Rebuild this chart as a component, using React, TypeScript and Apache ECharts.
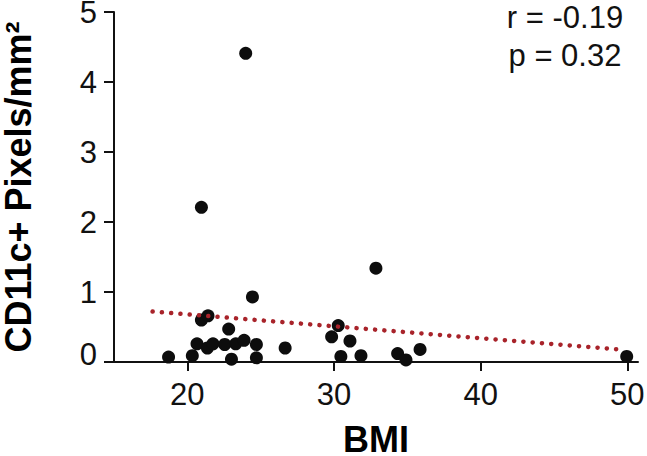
import React, { useEffect, useRef } from "react";
import * as echarts from "echarts";

const bmi = [18.72, 20.34, 20.66, 20.96, 21.41, 21.37, 21.75, 22.55, 22.82, 23.01, 23.3, 23.87, 24.44, 24.71, 24.71, 26.67, 29.84, 30.29, 31.09, 30.47, 31.84, 34.34, 34.91, 35.87, 49.96, 23.98, 20.96, 32.86];
const cd11c = [0.07, 0.09, 0.26, 0.6, 0.66, 0.2, 0.26, 0.25, 0.47, 0.04, 0.26, 0.31, 0.93, 0.25, 0.06, 0.2, 0.36, 0.52, 0.3, 0.08, 0.09, 0.12, 0.03, 0.18, 0.08, 4.41, 2.21, 1.34];
const trendX = [17.63, 49.44];
const trendY = [0.72, 0.18];
const xTicks = [20, 30, 40, 50];
const statLines = ["r = -0.19", "p = 0.32"];

const FONT = "'Liberation Sans', Arial, Helvetica, sans-serif";

export default function App() {
  const ref = useRef<HTMLDivElement>(null);
  useEffect(() => {
    if (!ref.current) return;
    const chart = echarts.init(ref.current, undefined, { renderer: "svg" });
    const points = bmi.map((x, i) => [x, cd11c[i]]);
    const trend = trendX.map((x, i) => [x, trendY[i]]);
    chart.setOption({
      animation: false,
      backgroundColor: "#ffffff",
      grid: { left: 114, right: 9, top: 12, bottom: 94, containLabel: false, outerBoundsMode: "none" },
      xAxis: {
        type: "value",
        min: 15,
        max: 50.73,
        name: "BMI",
        nameLocation: "middle",
        nameGap: 64,
        nameTextStyle: { fontFamily: FONT, fontSize: 36, fontWeight: "bold", color: "#000", lineHeight: 26 },
        axisLine: { lineStyle: { color: "#111", width: 2 } },
        axisTick: { show: true, length: 9, lineStyle: { color: "#111", width: 2 }, customValues: xTicks },
        axisLabel: { fontFamily: FONT, fontSize: 31, color: "#111", margin: 19, lineHeight: 26, customValues: xTicks },
        splitLine: { show: false },
      },
      yAxis: {
        type: "value",
        min: 0,
        max: 5,
        interval: 1,
        name: "CD11c+ Pixels/mm²",
        nameLocation: "middle",
        nameGap: 81,
        nameTextStyle: { fontFamily: FONT, fontSize: 36, fontWeight: "bold", color: "#000", lineHeight: 30 },
        axisLine: { show: true, lineStyle: { color: "#111", width: 2 } },
        axisTick: { show: true, length: 10, lineStyle: { color: "#111", width: 2 } },
        axisLabel: {
          fontFamily: FONT,
          fontSize: 31,
          color: "#111",
          margin: 17,
          lineHeight: 24,
          formatter: (v: number) => (v === 0 ? "{z|0}" : String(v)),
          rich: { z: { fontFamily: FONT, fontSize: 31, color: "#111", lineHeight: 24, padding: [0, 0, 16, 0] } },
        },
        splitLine: { show: false },
      },
      series: [
        {
          type: "line",
          data: trend,
          symbol: "none",
          lineStyle: { color: "#a8232a", width: 4.5, type: [0.1, 9.2], cap: "round" },
          z: 3,
        },
        {
          type: "scatter",
          data: points,
          symbolSize: 13,
          itemStyle: { color: "#0d0d0d", opacity: 1 },
          z: 2,
        },
      ],
      graphic: statLines.map((t, i) => ({
        type: "text",
        x: 565,
        y: 17 + i * 38.5,
        style: { text: t, fontFamily: FONT, fontSize: 31, lineHeight: 24, fill: "#111", textAlign: "center", textVerticalAlign: "middle" },
      })),
    });
    return () => chart.dispose();
  }, []);
  return <div ref={ref} style={{ position: "fixed", left: 0, top: 0, width: 647, height: 456 }} />;
}
